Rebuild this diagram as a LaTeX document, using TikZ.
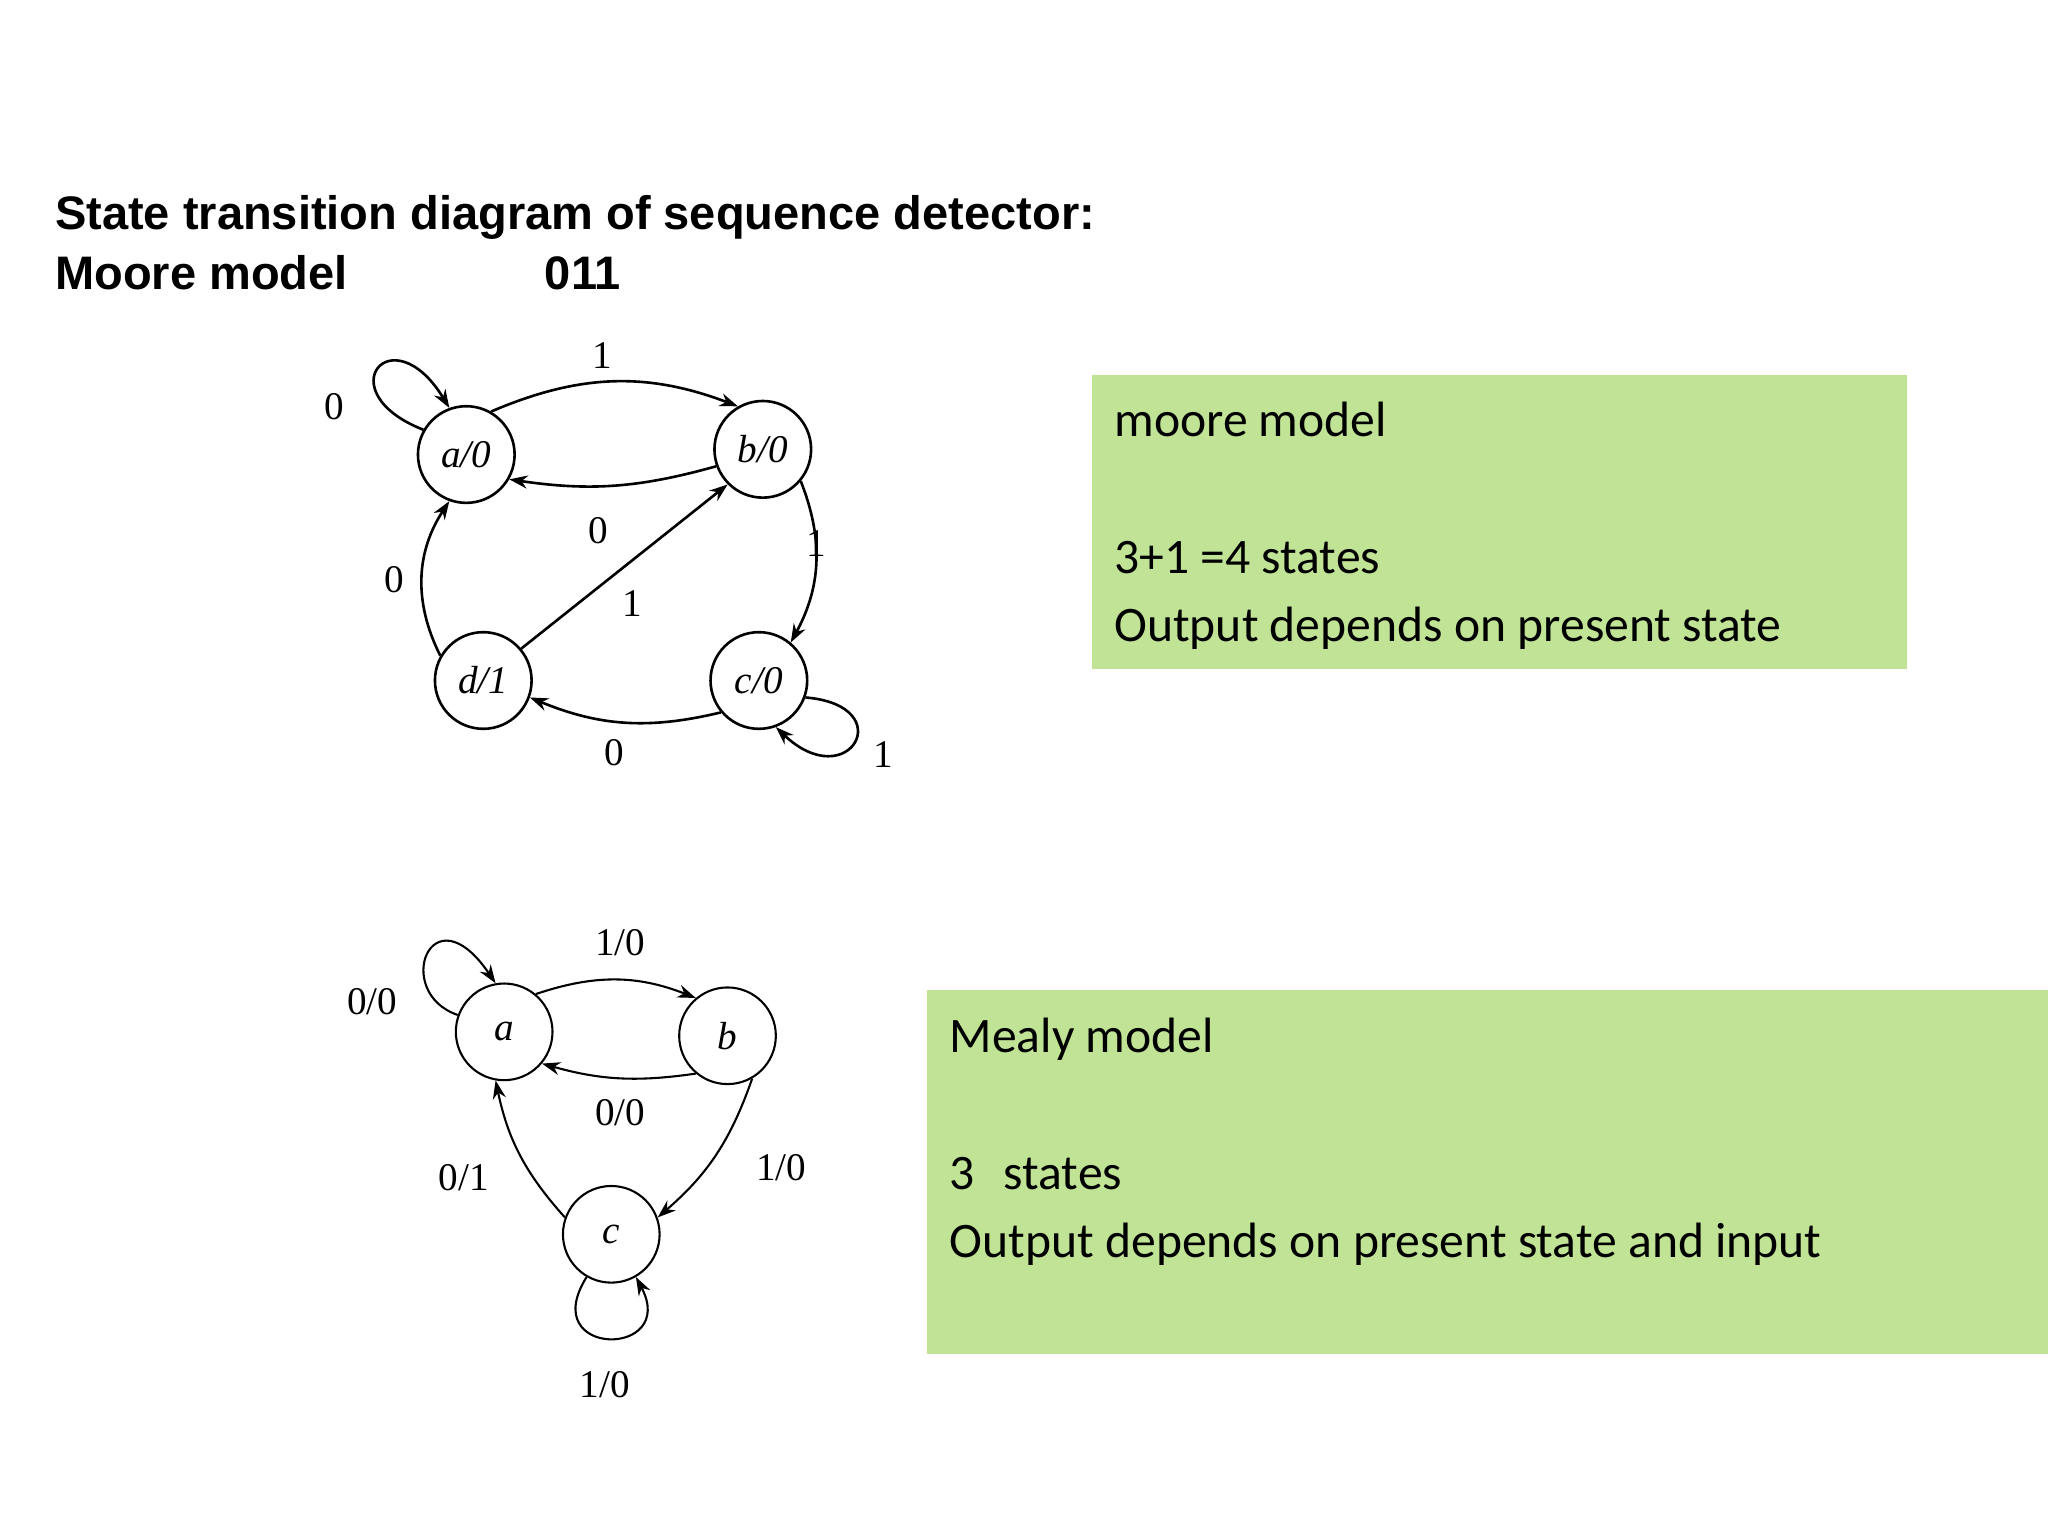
\documentclass[tikz,border=0pt]{standalone}
\usepackage{fontspec}
\setmainfont{Liberation Sans}
\newfontfamily\boxfont{Carlito}
\newfontfamily\dfont{Liberation Serif}
\usetikzlibrary{arrows.meta}
\definecolor{boxgreen}{HTML}{C0E396}
\begin{document}
\begin{tikzpicture}[x=1pt,y=-1pt,
  st/.style={circle,draw,line width=2pt,minimum size=74pt,inner sep=0pt,font=\dfont\fontsize{30}{30}\selectfont\itshape},
  ed/.style={line width=2pt,-{Stealth[length=14pt,width=10pt]}},
  lb/.style={font=\dfont\fontsize{30}{30}\selectfont},
  bx/.style={fill=boxgreen,draw=none},
  bt/.style={anchor=base west,font=\boxfont\fontsize{38}{38}\selectfont}]
\useasboundingbox (0,0) rectangle (1568,1176);
\fill[white] (0,0) rectangle (1568,1176);
% titles
\node[anchor=base west,font=\bfseries\fontsize{36}{36}\selectfont,inner sep=0] (t1) at (42,176) {State transition diagram of sequence detector:};
\node[anchor=base west,font=\bfseries\fontsize{36}{36}\selectfont,inner sep=0] (t2) at (42,222) {Moore model};
\node[anchor=base west,font=\bfseries\fontsize{36}{36}\selectfont,inner sep=0] (t3) at (417,222) {011};
% boxes
\fill[bx] (836,287) rectangle (1460,512);
\node[bt,inner sep=0] (m1) at (853,334) {moore model};
\node[bt,inner sep=0] (m2) at (853,439) {3+1 =4 states};
\node[bt,inner sep=0] (m3) at (853,491) {Output depends on present state};
\fill[bx] (710,758) rectangle (1568,1037);
\node[bt,inner sep=0] (n1) at (727,806) {Mealy model};
\node[bt,inner sep=0] (n2) at (727,911) {3\hspace{22pt}states};
\node[bt,inner sep=0] (n3) at (727,963) {Output depends on present state and input};
% Moore
\node[st] (a) at (357,348) {a/0};
\node[st] (b) at (584,344) {b/0};
\node[st] (c) at (581,521) {c/0};
\node[st] (d) at (370,521) {d/1};
\draw[ed] (a.150) .. controls (250,300) and (300,240) .. (a.110);
\draw[ed] (a.60) to[bend left=22] (b.120);
\draw[ed] (b.200) to[bend left=12] (a.-30);
\draw[ed] (b.-40) to[bend left=25] (c.50);
\draw[ed] (d.40) -- (b.225);
\draw[ed] (c.220) to[bend left=18] (d.-20);
\draw[ed] (d.150) to[bend left=30] (a.-110);
\draw[ed] (c.-20) .. controls (690,540) and (650,610) .. (c.-70);
\node[lb] (l1) at (256,311) {0};
\node[lb] (l2) at (461,272) {1};
\node[lb] (l3) at (458,406) {0};
\node[lb] (l4) at (625,416) {1};
\node[lb] (l5) at (484,462) {1};
\node[lb] (l6) at (470,576) {0};
\node[lb] (l7) at (302,444) {0};
\node[lb] (l8) at (676,578) {1};
% Mealy
\node[st,line width=1.6pt] (ma) at (386,790) {a};
\node[st,line width=1.6pt] (mb) at (557,793) {b};
\node[st,line width=1.6pt] (mc) at (468,945) {c};
\draw[ed,line width=1.6pt] (ma.160) .. controls (300,760) and (330,680) .. (ma.100);
\draw[ed,line width=1.6pt] (ma.50) to[bend left=20] (mb.130);
\draw[ed,line width=1.6pt] (mb.-130) to[bend left=12] (ma.-40);
\draw[ed,line width=1.6pt] (mb.-60) to[bend left=15] (mc.20);
\draw[ed,line width=1.6pt] (mc.160) to[bend left=15] (ma.-100);
\draw[ed,line width=1.6pt] (mc.-120) .. controls (410,1040) and (520,1040) .. (mc.-60);
\node[lb] (k1) at (285,767) {0/0};
\node[lb] (k2) at (475,722) {1/0};
\node[lb] (k3) at (475,852) {0/0};
\node[lb] (k4) at (598,894) {1/0};
\node[lb] (k5) at (355,902) {0/1};
\node[lb] (k6) at (463,1060) {1/0};
\end{tikzpicture}
\end{document}
